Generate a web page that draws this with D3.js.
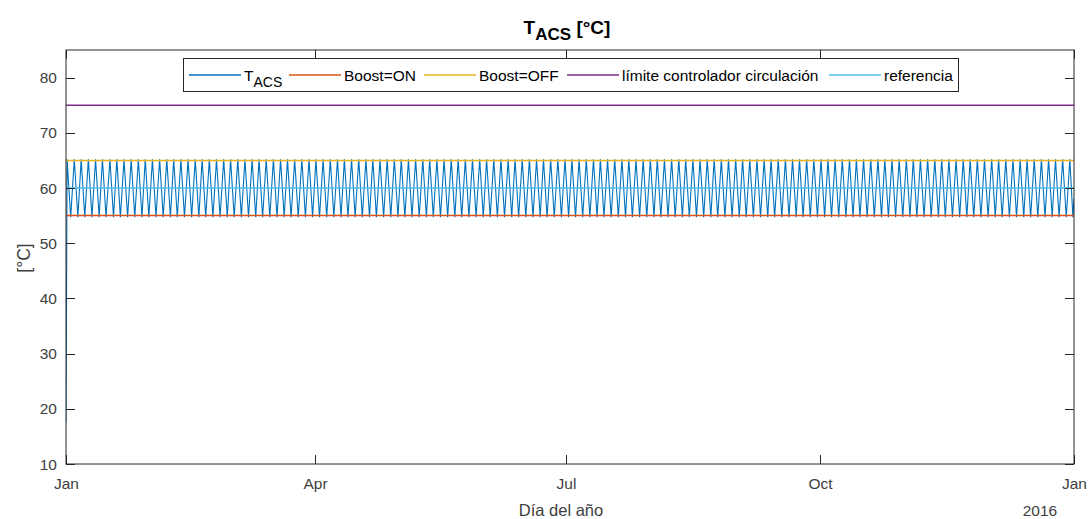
<!DOCTYPE html>
<html>
<head>
<meta charset="utf-8">
<script src="https://cdn.jsdelivr.net/npm/d3@7"></script>
<style>
  body { margin: 0; background: #fff; }
  svg { font-family: "Liberation Sans", Arial, Helvetica, sans-serif; }
</style>
</head>
<body>
<svg id="chart" width="1091" height="519"></svg>
<script>
// ---------------- data ----------------
const yearStart = Date.UTC(2015, 0, 1);
const yearEnd = Date.UTC(2016, 0, 1);
const xTickMonths = [[2015, 0], [2015, 3], [2015, 6], [2015, 9], [2016, 0]];
const xTickLabels = ["Jan", "Apr", "Jul", "Oct", "Jan"];
const yTicks = [10, 20, 30, 40, 50, 60, 70, 80];

// T_ACS start / end points [day of year, °C]
const tacsStart = [0.0, 17.5];
const tacsEnd = [365.0, 58.0];
// day of year of each heating peak (~65 °C)
const tacsPeakDays = [
  0.4, 3.0, 5.5, 8.1, 10.7, 13.2, 15.9, 18.4, 21.0, 23.6,
  26.2, 28.7, 31.3, 33.9, 36.5, 39.0, 41.6, 44.2, 46.8, 49.3,
  51.9, 54.5, 57.1, 59.6, 62.2, 64.8, 67.4, 69.9, 72.5, 75.1,
  77.7, 80.2, 82.8, 85.4, 88.0, 90.5, 93.1, 95.7, 98.3, 100.8,
  103.4, 106.0, 108.6, 111.1, 113.7, 116.3, 118.9, 121.4, 124.0, 126.6,
  129.2, 131.7, 134.3, 136.9, 139.5, 142.0, 144.6, 147.2, 149.8, 152.3,
  154.9, 157.5, 160.1, 162.6, 165.2, 167.8, 170.4, 172.9, 175.5, 178.1,
  180.7, 183.2, 185.8, 188.4, 191.0, 193.5, 196.1, 198.7, 201.3, 203.8,
  206.4, 209.0, 211.6, 214.1, 216.7, 219.3, 221.9, 224.4, 227.0, 229.6,
  232.2, 234.7, 237.3, 239.9, 242.5, 245.0, 247.6, 250.2, 252.8, 255.3,
  257.9, 260.5, 263.1, 265.6, 268.2, 270.8, 273.4, 275.9, 278.5, 281.1,
  283.7, 286.2, 288.8, 291.4, 294.0, 296.5, 299.1, 301.7, 304.3, 306.8,
  309.4, 312.0, 314.6, 317.1, 319.7, 322.3, 324.9, 327.4, 330.0, 332.6,
  335.2, 337.7, 340.3, 342.9, 345.5, 348.0, 350.6, 353.2, 355.8, 358.3,
  360.9, 363.5
];
// day of year of each cooling trough (~55 °C)
const tacsTroughDays = [
  1.7, 4.3, 6.8, 9.4, 12.0, 14.5, 17.2, 19.7, 22.3, 24.9,
  27.5, 30.0, 32.6, 35.2, 37.8, 40.3, 42.9, 45.5, 48.1, 50.6,
  53.2, 55.8, 58.4, 60.9, 63.5, 66.1, 68.7, 71.2, 73.8, 76.4,
  79.0, 81.5, 84.1, 86.7, 89.3, 91.8, 94.4, 97.0, 99.6, 102.1,
  104.7, 107.3, 109.9, 112.4, 115.0, 117.6, 120.2, 122.7, 125.3, 127.9,
  130.5, 133.0, 135.6, 138.2, 140.8, 143.3, 145.9, 148.5, 151.1, 153.6,
  156.2, 158.8, 161.4, 163.9, 166.5, 169.1, 171.7, 174.2, 176.8, 179.4,
  182.0, 184.5, 187.1, 189.7, 192.3, 194.8, 197.4, 200.0, 202.6, 205.1,
  207.7, 210.3, 212.9, 215.4, 218.0, 220.6, 223.2, 225.7, 228.3, 230.9,
  233.5, 236.0, 238.6, 241.2, 243.8, 246.3, 248.9, 251.5, 254.1, 256.6,
  259.2, 261.8, 264.4, 266.9, 269.5, 272.1, 274.7, 277.2, 279.8, 282.4,
  285.0, 287.5, 290.1, 292.7, 295.3, 297.8, 300.4, 303.0, 305.6, 308.1,
  310.7, 313.3, 315.9, 318.4, 321.0, 323.6, 326.2, 328.7, 331.3, 333.9,
  336.5, 339.0, 341.6, 344.2, 346.8, 349.3, 351.9, 354.5, 357.1, 359.6,
  362.2, 364.6
];
const tacsPeakTemp = 65.2;
const tacsTroughTemp = 54.7;

const boostOn = 55;
const boostOff = 65;
const limiteCirc = 75;
const referencia = 60;

const seriesNames = ["T", "Boost=ON", "Boost=OFF", "límite controlador circulación", "referencia"];
const seriesColors = ["#0072BD", "#D95319", "#EDB120", "#7E2F8E", "#4DBEEE"];

// ---------------- layout ----------------
const svg = d3.select("#chart");
const mLeft = 66, mRight = 1074, mTop = 50, mBottom = 464;
const axisColor = "#262626";
const labelColor = "#404040";

const dayToDate = d => new Date(yearStart + d * 864e5);
const x = d3.scaleUtc().domain([new Date(yearStart), new Date(yearEnd)]).range([mLeft, mRight]);
const y = d3.scaleLinear().domain([10, 85]).range([mBottom, mTop]);

// T_ACS points
const tacsPts = [tacsStart];
tacsPeakDays.forEach((d, i) => {
  tacsPts.push([d, tacsPeakTemp]);
  if (i < tacsTroughDays.length) tacsPts.push([tacsTroughDays[i], tacsTroughTemp]);
});
tacsPts.push(tacsEnd);
tacsPts.sort((a, b) => a[0] - b[0]);

const clipId = "plotclip";
svg.append("clipPath").attr("id", clipId).append("rect")
  .attr("x", mLeft).attr("y", mTop).attr("width", mRight - mLeft).attr("height", mBottom - mTop);

const plot = svg.append("g").attr("clip-path", `url(#${clipId})`);
const line = d3.line().x(d => x(dayToDate(d[0]))).y(d => y(d[1]));

plot.append("path").datum(tacsPts).attr("d", line)
  .attr("fill", "none").attr("stroke", seriesColors[0]).attr("stroke-width", 1.1);

const hLines = [boostOn, boostOff, limiteCirc, referencia];
hLines.forEach((v, i) => {
  plot.append("path").datum([[0, v], [365, v]]).attr("d", line)
    .attr("fill", "none").attr("stroke", seriesColors[i + 1]).attr("stroke-width", 1.5);
});

// ---------------- axes ----------------
const axes = svg.append("g");
axes.append("rect").attr("x", mLeft).attr("y", mTop).attr("width", mRight - mLeft).attr("height", mBottom - mTop)
  .attr("fill", "none").attr("stroke", axisColor).attr("stroke-width", 1);

const tickLen = 9;
yTicks.forEach(v => {
  const yy = Math.round(y(v)) + 0.5;
  axes.append("line").attr("x1", mLeft).attr("x2", mLeft + tickLen).attr("y1", yy).attr("y2", yy).attr("stroke", axisColor);
  axes.append("line").attr("x1", mRight - tickLen).attr("x2", mRight).attr("y1", yy).attr("y2", yy).attr("stroke", axisColor);
  axes.append("text").attr("x", mLeft - 9).attr("y", y(v)).attr("dy", "0.36em")
    .attr("text-anchor", "end").attr("font-size", 15.5).attr("fill", labelColor).text(v);
});

xTickMonths.forEach((m, i) => {
  const xx = Math.round(x(new Date(Date.UTC(m[0], m[1], 1)))) + 0.5;
  axes.append("line").attr("x1", xx).attr("x2", xx).attr("y1", mBottom).attr("y2", mBottom - tickLen).attr("stroke", axisColor);
  axes.append("line").attr("x1", xx).attr("x2", xx).attr("y1", mTop).attr("y2", mTop + tickLen).attr("stroke", axisColor);
  axes.append("text").attr("x", xx).attr("y", 489)
    .attr("text-anchor", "middle").attr("font-size", 15.5).attr("fill", labelColor).text(xTickLabels[i]);
});

axes.append("text").attr("x", mRight - 34).attr("y", 516).attr("text-anchor", "middle")
  .attr("font-size", 15.5).attr("fill", labelColor).text("2016");

axes.append("text").attr("x", 561).attr("y", 516).attr("text-anchor", "middle")
  .attr("font-size", 16.5).attr("fill", labelColor).text("Día del año");

axes.append("text").attr("transform", "translate(30,258) rotate(-90)")
  .attr("text-anchor", "middle").attr("font-size", 17.5).attr("fill", labelColor).text("[°C]");

// title
const title = svg.append("text").attr("x", 567).attr("y", 34).attr("text-anchor", "middle")
  .attr("font-size", 19).attr("font-weight", "bold").attr("fill", "#000");
title.append("tspan").text("T");
title.append("tspan").attr("font-size", 17).attr("dy", 6).text("ACS");
title.append("tspan").attr("dy", -6).text(" [°C]");

// ---------------- legend ----------------
const lg = svg.append("g");
lg.append("rect").attr("x", 183.5).attr("y", 58.5).attr("width", 775).attr("height", 33)
  .attr("fill", "#fff").attr("stroke", axisColor).attr("stroke-width", 1);
const legendLineX = [189, 289, 424, 567, 829];
const legendLineLen = 52;
const ly = 75;
seriesNames.forEach((name, i) => {
  const lx = legendLineX[i];
  lg.append("line").attr("x1", lx).attr("x2", lx + legendLineLen).attr("y1", ly).attr("y2", ly)
    .attr("stroke", seriesColors[i]).attr("stroke-width", 1.5);
  const t = lg.append("text").attr("x", lx + legendLineLen + 3).attr("y", 81)
    .attr("font-size", 15.5).attr("fill", "#000");
  t.append("tspan").text(name);
  if (i === 0) t.append("tspan").attr("font-size", 14).attr("dy", 6).text("ACS");
});
</script>
</body>
</html>
